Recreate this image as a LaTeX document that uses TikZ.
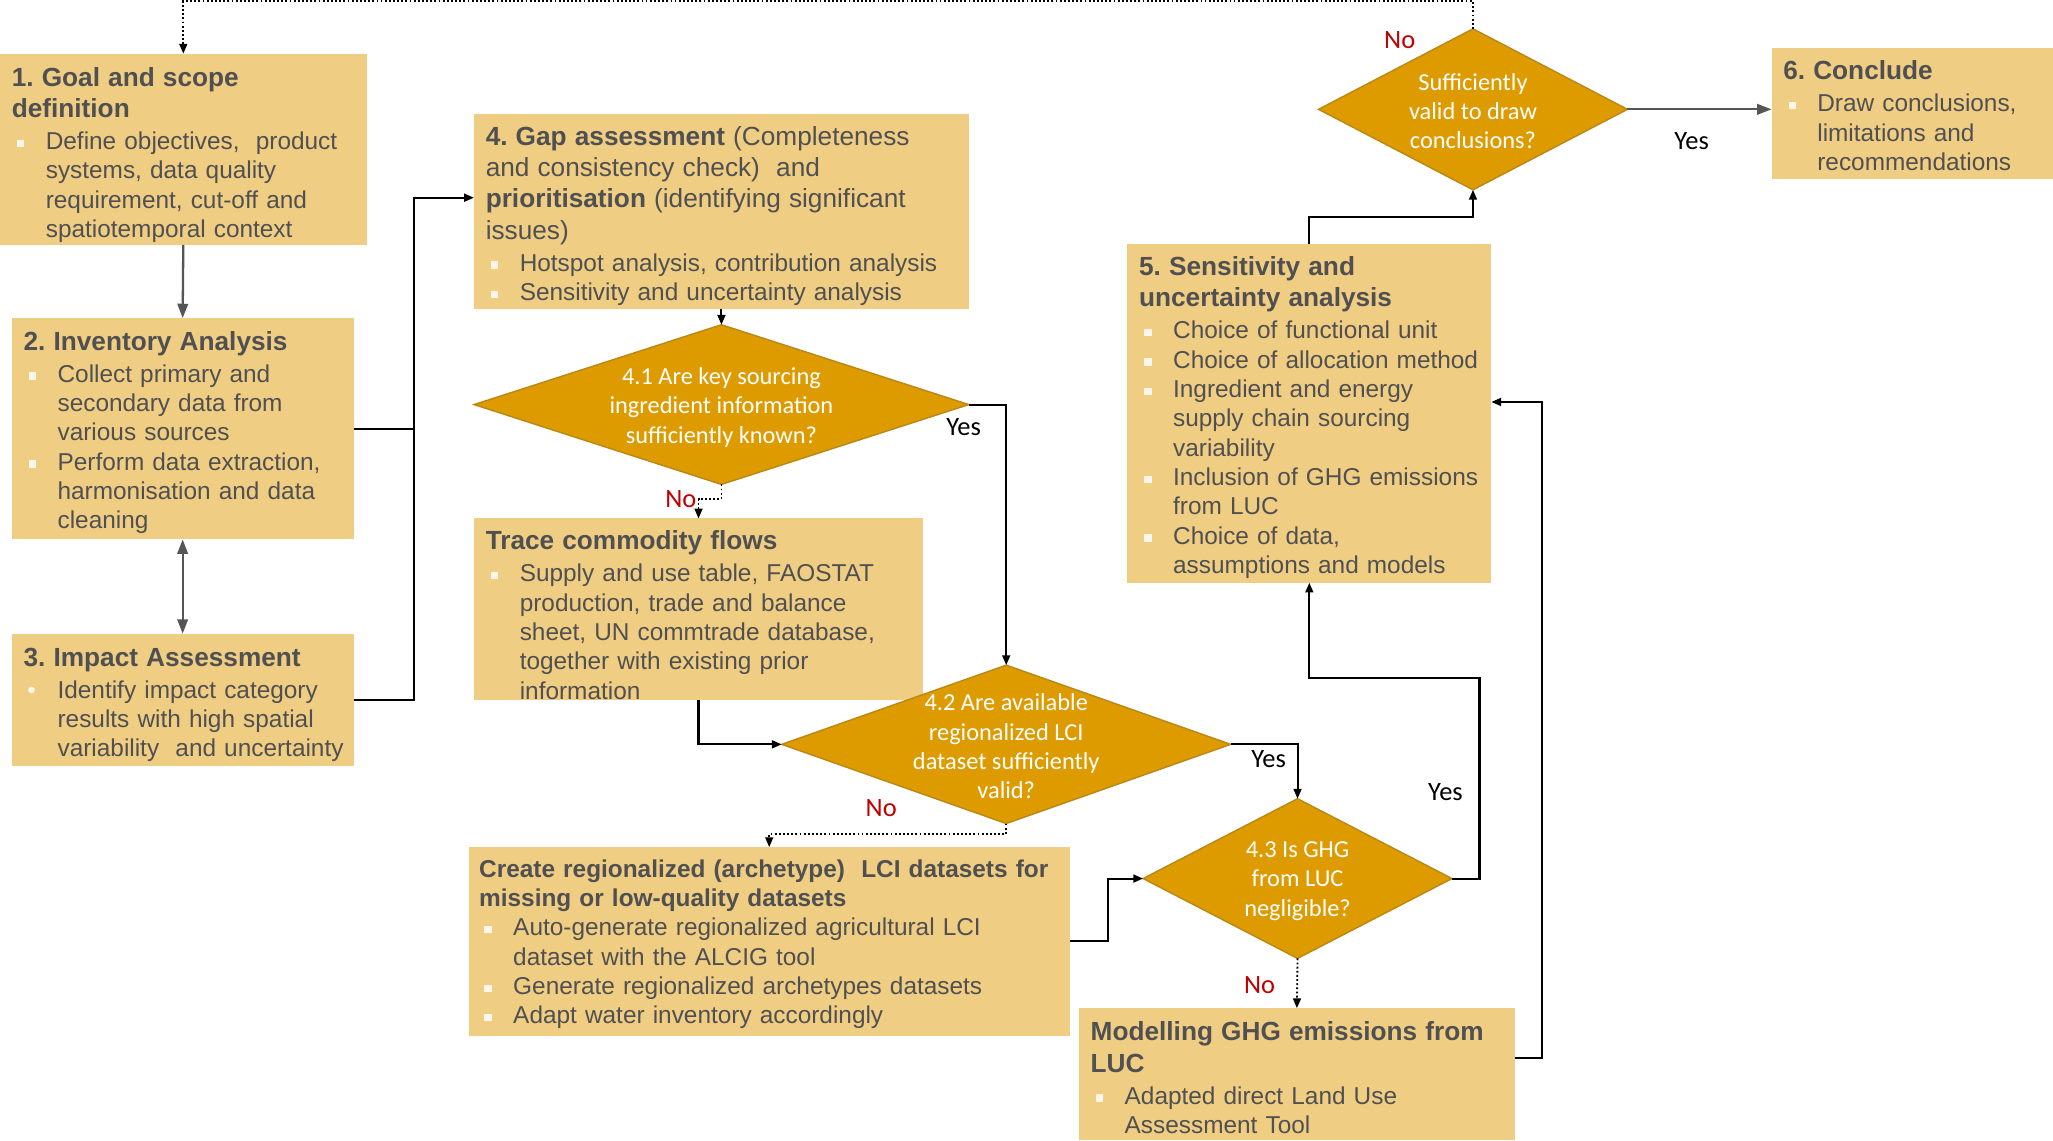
\documentclass[tikz,border=0pt]{standalone}
\usepackage{fontspec}
\setmainfont{Liberation Sans}
\newfontfamily\calfont{Carlito}
\usetikzlibrary{shapes.geometric,arrows.meta,fit,calc}
\frenchspacing
\definecolor{boxfill}{RGB}{239,205,130}
\definecolor{diafill}{RGB}{222,155,0}
\definecolor{diadraw}{RGB}{185,135,20}
\definecolor{txtgray}{RGB}{80,80,82}
\definecolor{nored}{RGB}{192,0,0}
\definecolor{bulcol}{RGB}{250,246,235}
\definecolor{arrgray}{RGB}{85,85,88}
\newcommand{\ttlf}{\fontsize{11.4}{13.6}\selectfont\bfseries}
\newcommand{\ttlr}{\fontsize{11.4}{13.6}\selectfont}
\newcommand{\bodyf}{\fontsize{10.6}{12.75}\selectfont}
\newcommand{\bsq}{\textcolor{bulcol}{\rule[0.1em]{0.3em}{0.3em}}}
\newcommand{\bi}{\hspace*{0.08cm}\makebox[0.44cm][l]{\bsq}}
\newcommand{\bdot}{\hspace*{0.06cm}\makebox[0.46cm][l]{\textcolor{bulcol}{•}}}
\newcommand{\bc}{\hspace*{0.52cm}}
\newcommand{\gap}{\vspace{1.1pt}}
\tikzset{
  box/.style={rectangle, fill=boxfill, draw=none, inner sep=0pt, outer sep=0pt},
  btxt/.style={anchor=base west, inner sep=0pt, outer sep=0pt, text width=12cm, align=left, text=txtgray, font=\bodyf},
  dia/.style={diamond, fill=diafill, draw=diadraw, line width=0.6pt, inner sep=0pt, outer sep=0pt},
  dtxt/.style={text=white, font=\calfont\fontsize{10.6}{12.75}\selectfont, align=center, inner sep=0pt},
  lbl/.style={font=\calfont\fontsize{11.5}{13}\selectfont, inner sep=0pt},
  conn/.style={line width=0.9pt, black},
  arr/.style={conn, -{Triangle[length=0.15cm,width=0.12cm]}},
  darr/.style={line width=0.8pt, densely dotted, -{Triangle[length=0.15cm,width=0.12cm]}},
  garr/.style={line width=1pt, arrgray, -{Triangle[length=0.22cm,width=0.16cm]}},
  gdarr/.style={line width=1pt, arrgray, {Triangle[length=0.22cm,width=0.16cm]}-{Triangle[length=0.22cm,width=0.16cm]}}
}
\begin{document}
\begin{tikzpicture}[x=0.02cm,y=-0.02cm]
\useasboundingbox (0,0) rectangle (1568,871);
\fill[white] (0,0) rectangle (1568,871);

% boxes
\node[box, fit={(0,41)(280,187)}] (b1) {};
\node[box, fit={(9,243)(270,412)}] (b2) {};
\node[box, fit={(9,484)(270,585)}] (b3) {};
\node[box, fit={(362,87)(740,236)}] (b4) {};
\node[box, fit={(362,396)(705,535)}] (tr) {};
\node[box, fit={(358,647)(817,791)}] (cr) {};
\node[box, fit={(824,770)(1157,871)}] (mod) {};
\node[box, fit={(861,186)(1139,445)}] (b5) {};
\node[box, fit={(1353,37)(1568,137)}] (b6) {};

% box texts
\node[btxt] (b1t) at (9,66) {{\ttlf 1. Goal and scope\\definition\par}\gap
\bi Define objectives,\ \ product\\\bc systems, data quality\\\bc requirement, cut-off and\\\bc spatiotemporal context};
\node[btxt] (b2t) at (18,267.5) {{\ttlf 2. Inventory Analysis\par}\gap
\bi Collect primary and\\\bc secondary data from\\\bc various sources\\\bi Perform data extraction,\\\bc harmonisation and data\\\bc cleaning};
\node[btxt] (b3t) at (18,509) {{\ttlf 3. Impact Assessment\par}\gap
\bdot Identify impact category\\\bc results with high spatial\\\bc variability\ \ and uncertainty};
\node[btxt] (b4t) at (371,111) {{\ttlr\textbf{4. Gap assessment} (Completeness\\and consistency check)\ \ and\\\textbf{prioritisation} (identifying significant\\issues)\par}\gap
\bi Hotspot analysis, contribution analysis\\\bi Sensitivity and uncertainty analysis};
\node[btxt] (trt) at (371,420) {{\ttlf Trace commodity flows\par}\gap
\bi Supply and use table, FAOSTAT\\\bc production, trade and balance\\\bc sheet, UN commtrade database,\\\bc together with existing prior\\\bc information};
\node[btxt] (crt) at (366,670) {{\bfseries Create regionalized (archetype)\ \ LCI datasets for\\missing or low-quality datasets\par}
\bi Auto-generate regionalized agricultural LCI\\\bc dataset with the ALCIG tool\\\bi Generate regionalized archetypes datasets\\\bi Adapt water inventory accordingly};
\node[btxt] (modt) at (833,795) {{\ttlf Modelling GHG emissions from\\LUC\par}\gap
\bi Adapted direct Land Use\\\bc Assessment Tool};
\node[btxt] (b5t) at (870,210.5) {{\ttlf 5. Sensitivity and\\uncertainty analysis\par}\gap
\bi Choice of functional unit\\\bi Choice of allocation method\\\bi Ingredient and energy\\\bc supply chain sourcing\\\bc variability\\\bi Inclusion of GHG emissions\\\bc from LUC\\\bi Choice of data,\\\bc assumptions and models};
\node[btxt] (b6t) at (1362,61) {{\ttlf 6. Conclude\par}\gap
\bi Draw conclusions,\\\bc limitations and\\\bc recommendations};

% diamonds
\node[dia, minimum width=7.56cm, minimum height=2.44cm] (d41) at (551,309) {};
\node[dia, minimum width=6.86cm, minimum height=2.42cm] (d42) at (768.5,568.5) {};
\node[dia, minimum width=4.72cm, minimum height=2.44cm] (d43) at (991,671) {};
\node[dia, minimum width=4.72cm, minimum height=2.46cm] (dsuf) at (1125,83.5) {};
\node[dtxt] (d41t) at ($(d41)+(0,2)$) {4.1 Are key sourcing\\ingredient information\\sufficiently known?};
\node[dtxt] (d42t) at ($(d42)+(0,1.5)$) {4.2 Are available\\regionalized LCI\\dataset sufficiently\\valid?};
\node[dtxt] (d43t) at ($(d43)+(0,2)$) {4.3 Is GHG\\from LUC\\negligible?};
\node[dtxt] (dsuft) at ($(dsuf)+(0,1.5)$) {Sufficiently\\valid to draw\\conclusions?};

% connectors
\draw[darr] (dsuf.north) -- ++(0,-21) -| (b1.north);
\draw[garr] (b1.south) -- (b2.north);
\draw[gdarr] (b2.south) -- (b3.north);
\coordinate (j1) at (316,151);
\draw[conn] (b2.east) -- (b2.east -| j1);
\draw[arr] (b3.east) -| (j1) -- (b4.west |- j1);
\draw[arr] (b4.south) -- (d41.north);
\draw[darr] (d41.south) -- ++(0,11) -| (tr.north);
\draw[arr] (d41.east) -| (d42.north);
\draw[arr] (tr.south) |- (d42.west);
\draw[darr] (d42.south) -- ++(0,8) -| (cr.north);
\draw[arr] (d42.east) -| (d43.north);
\draw[arr] (cr.east) -- ++(29,0) |- (d43.west);
\draw[arr] (d43.east) -- ++(21,0) -- ++(0,-153) -| (b5.south);
\draw[darr] (d43.south) -- (mod.north);
\draw[arr] ($(mod.north east)+(0,38)$) -- ++(21,0) |- ($(b5.north east)+(0,121)$);
\draw[arr] (b5.north) -- ++(0,-20) -| (dsuf.south);
\draw[garr] (dsuf.east) -- (dsuf.east -| b6.west);

% labels
\node[lbl, text=nored] (no1) at (1069,31) {No};
\node[lbl] (yes1) at (1292,108) {Yes};
\node[lbl] (yes2) at (736,326) {Yes};
\node[lbl, text=nored] (no2) at (520,381) {No};
\node[lbl, text=nored] (no3) at (673,617) {No};
\node[lbl] (yes3) at (969,580) {Yes};
\node[lbl] (yes4) at (1104,605) {Yes};
\node[lbl, text=nored] (no4) at (962,752) {No};
\end{tikzpicture}
\end{document}
